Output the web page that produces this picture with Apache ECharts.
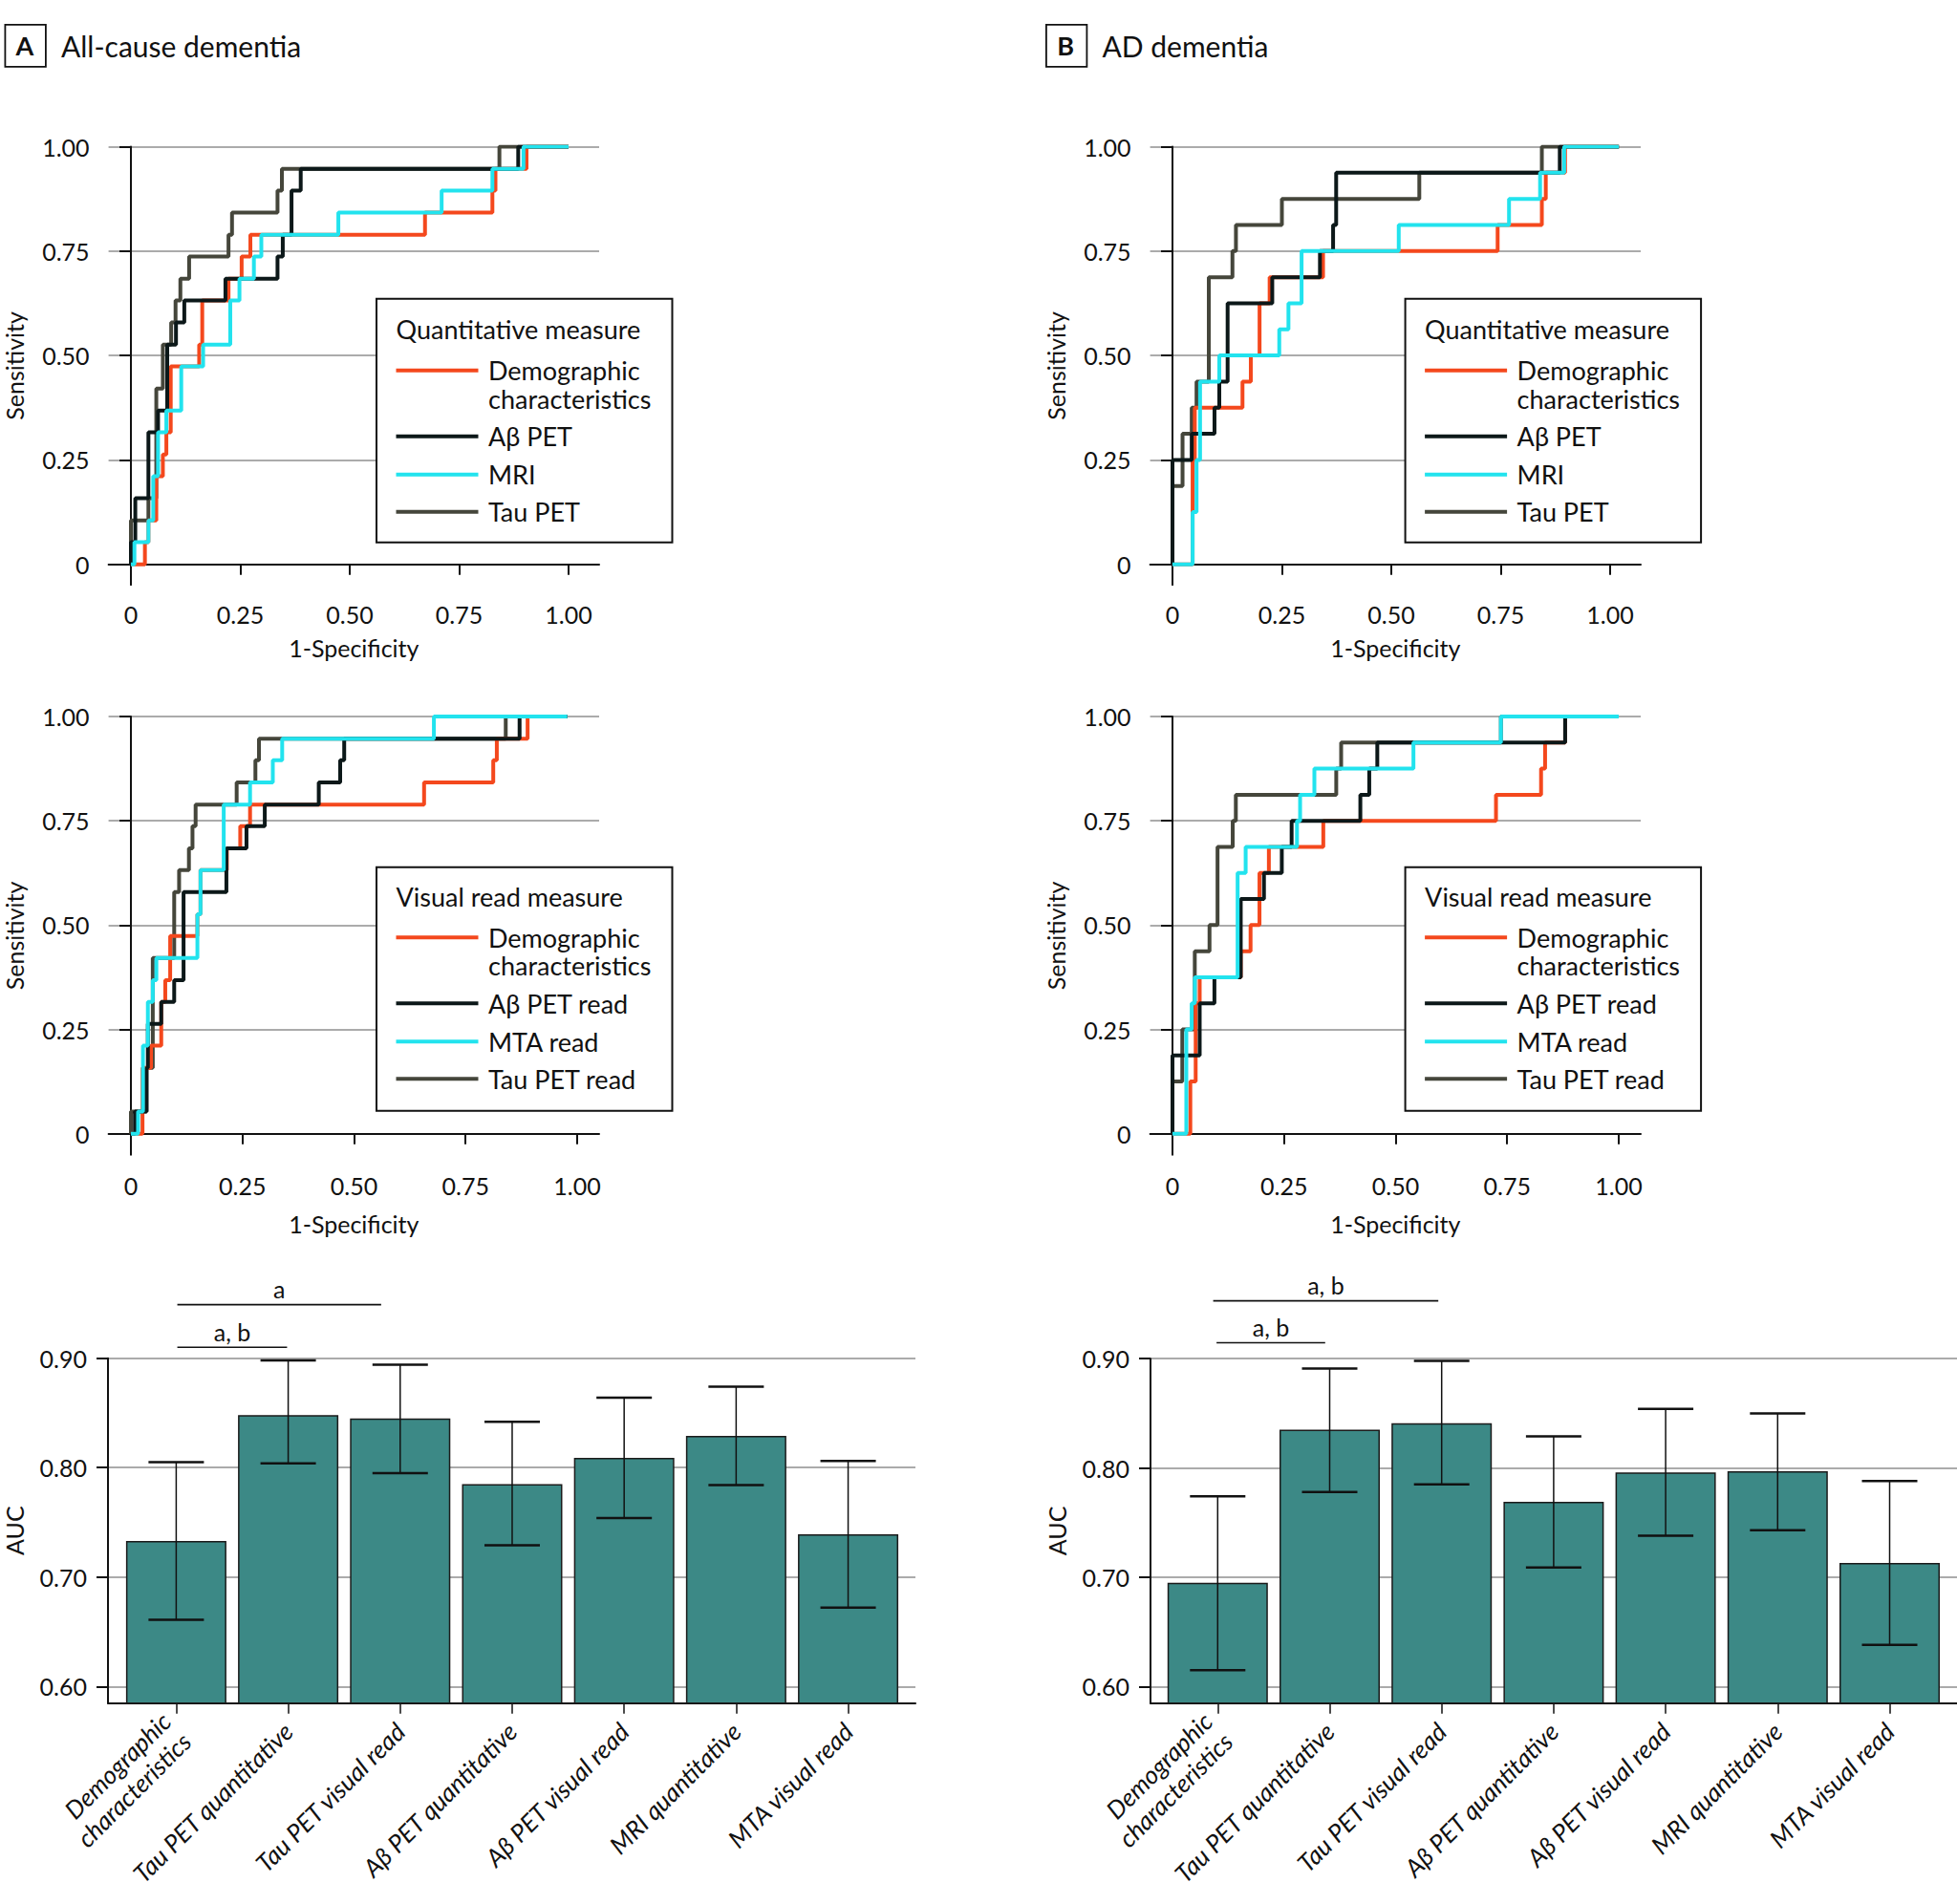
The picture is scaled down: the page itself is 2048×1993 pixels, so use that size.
<!DOCTYPE html>
<html><head><meta charset="utf-8">
<script src="https://cdn.jsdelivr.net/npm/echarts@6.0.0/dist/echarts.min.js"></script>
<style>html,body{margin:0;padding:0;background:#fff}#c{width:2048px;height:1993px}</style>
</head><body><div id="c"></div>
<script>
// ---------------- DATA ----------------
// ROC step curves: [FPR (1-Specificity), TPR (Sensitivity)] — each point = where the curve rises to that sensitivity
const demoA_q = [[0,0],[0.032,0.053],[0.04,0.105],[0.058,0.211],[0.073,0.263],[0.081,0.316],[0.091,0.474],[0.156,0.526],[0.163,0.632],[0.223,0.684],[0.253,0.737],[0.273,0.789],[0.672,0.842],[0.826,0.895],[0.833,0.947],[0.904,1],[1,1]];
const abA_q   = [[0,0],[0,0.053],[0.01,0.158],[0.04,0.316],[0.062,0.368],[0.083,0.526],[0.103,0.579],[0.122,0.632],[0.216,0.684],[0.335,0.737],[0.347,0.789],[0.367,0.895],[0.388,0.947],[0.885,1],[1,1]];
const mriA_q  = [[0,0],[0.008,0.053],[0.04,0.105],[0.051,0.211],[0.062,0.316],[0.081,0.368],[0.115,0.474],[0.165,0.526],[0.227,0.632],[0.248,0.684],[0.281,0.737],[0.298,0.789],[0.474,0.842],[0.71,0.895],[0.826,0.947],[0.897,1],[1,1]];
const tauA_q  = [[0,0],[0,0.105],[0.04,0.158],[0.058,0.421],[0.073,0.526],[0.092,0.579],[0.102,0.632],[0.113,0.684],[0.133,0.737],[0.223,0.789],[0.231,0.842],[0.335,0.895],[0.345,0.947],[0.842,1],[1,1]];

const demoA_v = [[0,0],[0.026,0.158],[0.045,0.211],[0.068,0.316],[0.077,0.368],[0.088,0.474],[0.149,0.526],[0.156,0.632],[0.215,0.684],[0.245,0.737],[0.267,0.789],[0.657,0.842],[0.812,0.895],[0.82,0.947],[0.889,1],[0.978,1]];
const abA_v   = [[0,0],[0.009,0.053],[0.035,0.158],[0.038,0.263],[0.068,0.316],[0.097,0.368],[0.118,0.579],[0.214,0.684],[0.259,0.737],[0.3,0.789],[0.421,0.842],[0.469,0.895],[0.478,0.947],[0.871,1],[0.978,1]];
const mtaA_v  = [[0,0],[0.016,0.053],[0.027,0.211],[0.038,0.316],[0.049,0.368],[0.057,0.421],[0.149,0.526],[0.156,0.632],[0.208,0.789],[0.267,0.842],[0.318,0.895],[0.339,0.947],[0.679,1],[0.978,1]];
const tauA_v  = [[0,0],[0,0.053],[0.035,0.158],[0.049,0.421],[0.097,0.579],[0.108,0.632],[0.13,0.684],[0.138,0.737],[0.145,0.789],[0.237,0.842],[0.279,0.895],[0.287,0.947],[0.84,1],[0.978,1]];

const demoB_q = [[0,0],[0.046,0.25],[0.051,0.375],[0.16,0.4375],[0.179,0.5],[0.199,0.625],[0.222,0.6875],[0.344,0.75],[0.743,0.8125],[0.844,0.875],[0.853,0.9375],[0.897,1],[1.02,1]];
const abB_q   = [[0,0],[0,0.25],[0.044,0.3125],[0.096,0.375],[0.107,0.4375],[0.126,0.625],[0.228,0.6875],[0.337,0.75],[0.367,0.8125],[0.374,0.9375],[0.885,1],[1.02,1]];
const mriB_q  = [[0,0],[0.046,0.125],[0.055,0.25],[0.063,0.4375],[0.107,0.5],[0.244,0.5625],[0.265,0.625],[0.295,0.75],[0.517,0.8125],[0.769,0.875],[0.84,0.9375],[0.895,1],[1.02,1]];
const tauB_q  = [[0,0],[0,0.1875],[0.023,0.3125],[0.044,0.375],[0.055,0.4375],[0.083,0.6875],[0.137,0.75],[0.145,0.8125],[0.25,0.875],[0.564,0.9375],[0.844,1],[1.02,1]];

const demoB_v = [[0,0],[0.04,0.125],[0.052,0.3125],[0.061,0.375],[0.153,0.4375],[0.175,0.5],[0.195,0.625],[0.216,0.6875],[0.338,0.75],[0.725,0.8125],[0.826,0.875],[0.835,0.9375],[0.88,1],[1,1]];
const abB_v   = [[0,0],[0,0.1875],[0.061,0.3125],[0.094,0.375],[0.153,0.5625],[0.205,0.625],[0.245,0.6875],[0.267,0.75],[0.421,0.8125],[0.441,0.875],[0.459,0.9375],[0.88,1],[1,1]];
const mtaB_v  = [[0,0],[0.031,0.25],[0.043,0.3125],[0.05,0.375],[0.146,0.625],[0.164,0.6875],[0.279,0.75],[0.286,0.8125],[0.318,0.875],[0.54,0.9375],[0.736,1],[1,1]];
const tauB_v  = [[0,0],[0,0.125],[0.022,0.25],[0.05,0.4375],[0.083,0.5],[0.101,0.6875],[0.135,0.75],[0.142,0.8125],[0.367,0.875],[0.378,0.9375],[0.736,1],[1,1]];

const rocTicks = [0, 0.25, 0.5, 0.75, 1];

const quantNames  = ['Demographic\ncharacteristics', 'Aβ PET', 'MRI', 'Tau PET'];
const visualNames = ['Demographic\ncharacteristics', 'Aβ PET read', 'MTA read', 'Tau PET read'];

// AUC bars
const categories = ['Demographic\ncharacteristics', 'Tau PET quantitative', 'Tau PET visual read', 'Aβ PET quantitative', 'Aβ PET visual read', 'MRI quantitative', 'MTA visual read'];
const catPos = [1, 2, 3, 4, 5, 6, 7];
const aucA = [0.733, 0.848, 0.845, 0.785, 0.809, 0.829, 0.739];
const loA  = [0.661, 0.804, 0.795, 0.729, 0.754, 0.784, 0.672];
const hiA  = [0.805, 0.898, 0.894, 0.842, 0.864, 0.874, 0.806];
const aucB = [0.695, 0.835, 0.841, 0.769, 0.796, 0.797, 0.713];
const loB  = [0.615, 0.778, 0.785, 0.709, 0.738, 0.743, 0.638];
const hiB  = [0.774, 0.891, 0.898, 0.829, 0.854, 0.850, 0.788];
const aucTicks = [0.6, 0.7, 0.8, 0.9];

// significance brackets: from / to (category position), level (AUC), label
const sigFromA = [1.01, 1.01], sigToA = [1.99, 2.83], sigLevelA = [0.910, 0.949], sigLabelA = ['a, b', 'a'];
const sigFromB = [0.99, 0.96], sigToB = [1.96, 2.97], sigLevelB = [0.9146, 0.953], sigLabelB = ['a, b', 'a, b'];

const panelTitles = ['All-cause dementia', 'AD dementia'];
const panelLetters = ['A', 'B'];

// ---------------- STYLE ----------------
const FONT = 'Lato';
const INK = '#111111';
const C = { demo: '#f4481d', ab: '#0c1819', mri: '#22e3ee', tau: '#45463b' };
const GRIDC = '#ababab';
const BAR = '#3c8986';

const chart = echarts.init(document.getElementById('c'), null, { renderer: 'svg', width: 2048, height: 1993 });

const grids = [
  { left: 113.6, top: 153.5, width: 513.4, height: 458.8 },
  { left: 1203.6, top: 153.5, width: 513.4, height: 458.8 },
  { left: 113.6, top: 750, width: 513.4, height: 458.7 },
  { left: 1203.6, top: 750, width: 513.4, height: 458.7 },
  { left: 113, top: 1421.7, width: 845, height: 361 },
  { left: 1204, top: 1422.2, width: 844, height: 360.5 }
];

const fmtRoc = v => (Math.abs(v) < 1e-9 ? '0' : v.toFixed(2));

function rocX(i, min, max, labelMargin, nameGap) {
  return {
    type: 'value', gridIndex: i, min, max,
    axisLine: { show: true, lineStyle: { color: INK, width: 2 } },
    axisTick: { show: true, customValues: rocTicks, length: 11, lineStyle: { color: INK, width: 2 } },
    axisLabel: { customValues: rocTicks, formatter: fmtRoc, fontSize: 25, color: INK, fontFamily: FONT, margin: labelMargin },
    splitLine: { show: false },
    name: '1-Specificity', nameLocation: 'middle', nameGap,
    nameTextStyle: { fontSize: 25, color: INK, fontFamily: FONT }
  };
}
function rocY(i, min) {
  return {
    type: 'value', gridIndex: i, min, max: 1,
    axisLine: { show: true, lineStyle: { color: INK, width: 2 } },
    axisTick: { show: true, customValues: rocTicks, length: 12, lineStyle: { color: INK, width: 2 } },
    axisLabel: { customValues: rocTicks, formatter: fmtRoc, fontSize: 25, color: INK, fontFamily: FONT, margin: 20 },
    splitLine: { show: true, lineStyle: { color: GRIDC, width: 2 } },
    name: 'Sensitivity', nameLocation: 'middle', nameGap: 86,
    nameTextStyle: { fontSize: 25, color: INK, fontFamily: FONT }
  };
}
function barX(i, min, max) {
  return {
    type: 'value', gridIndex: i, min, max,
    axisLine: { show: true, lineStyle: { color: INK, width: 2 } },
    axisTick: { show: true, customValues: catPos, length: 11, lineStyle: { color: INK, width: 1.5 } },
    axisLabel: { customValues: catPos, formatter: v => categories[Math.round(v) - 1], rotate: 45,
      fontSize: 26, fontStyle: 'italic', color: INK, fontFamily: FONT, margin: 25, lineHeight: 30 },
    splitLine: { show: false }
  };
}
function barY(i) {
  return {
    type: 'value', gridIndex: i, min: 0.5848, max: 0.9,
    axisLine: { show: true, lineStyle: { color: INK, width: 2 } },
    axisTick: { show: true, customValues: aucTicks, length: 12, lineStyle: { color: INK, width: 2 } },
    axisLabel: { customValues: aucTicks, formatter: v => v.toFixed(2), fontSize: 25, color: INK, fontFamily: FONT, margin: 22 },
    splitLine: { show: true, lineStyle: { color: GRIDC, width: 2 } },
    name: 'AUC', nameLocation: 'middle', nameGap: 86,
    nameTextStyle: { fontSize: 25, color: INK, fontFamily: FONT }
  };
}

const xAxes = [
  rocX(0, -0.0511, 1.0699, 18, 53),
  rocX(1, -0.0511, 1.0699, 18, 53),
  rocX(2, -0.0501, 1.0493, 20, 60),
  rocX(3, -0.0501, 1.0493, 20, 60),
  barX(4, 0.3908, 7.601),
  barX(5, 0.4002, 7.6015)
];
const yAxes = [rocY(0, -0.0494), rocY(1, -0.0494), rocY(2, -0.0504), rocY(3, -0.0504), barY(4), barY(5)];

function roc(i, name, data, color) {
  return { type: 'line', name, xAxisIndex: i, yAxisIndex: i, data, step: 'end', symbol: 'none',
    lineStyle: { color, width: 4 }, itemStyle: { color }, z: 3, silent: true };
}

const series = [];
// draw order: Tau, Demographic, Aβ, MRI/MTA (top)
[[0, tauA_q, demoA_q, abA_q, mriA_q, quantNames], [1, tauB_q, demoB_q, abB_q, mriB_q, quantNames],
 [2, tauA_v, demoA_v, abA_v, mtaA_v, visualNames], [3, tauB_v, demoB_v, abB_v, mtaB_v, visualNames]]
.forEach(([i, tau, demo, ab, mri, names]) => {
  series.push(roc(i, names[3], tau, C.tau));
  series.push(roc(i, names[0], demo, C.demo));
  series.push(roc(i, names[1], ab, C.ab));
  series.push(roc(i, names[2], mri, C.mri));
});

function bars(i, auc, lo, hi, from, to, level, labels) {
  series.push({ type: 'bar', xAxisIndex: i, yAxisIndex: i, barWidth: 105,
    data: catPos.map((p, k) => [p, auc[k]]),
    itemStyle: { color: BAR, borderColor: '#1b1b1b', borderWidth: 1.5 }, silent: true, z: 2 });
  series.push({ type: 'custom', xAxisIndex: i, yAxisIndex: i, clip: false, silent: true, z: 4,
    data: catPos.map((p, k) => [p, lo[k], hi[k]]),
    encode: { x: 0, y: [1, 2] },
    renderItem: (params, api) => {
      const a = api.coord([api.value(0), api.value(1)]);
      const b = api.coord([api.value(0), api.value(2)]);
      const h = 29;
      return { type: 'group', children: [
        { type: 'line', shape: { x1: a[0], y1: a[1], x2: b[0], y2: b[1] }, style: { stroke: INK, lineWidth: 1.5 } },
        { type: 'line', shape: { x1: a[0] - h, y1: a[1], x2: a[0] + h, y2: a[1] }, style: { stroke: INK, lineWidth: 2.5 } },
        { type: 'line', shape: { x1: b[0] - h, y1: b[1], x2: b[0] + h, y2: b[1] }, style: { stroke: INK, lineWidth: 2.5 } }
      ] };
    } });
  series.push({ type: 'custom', xAxisIndex: i, yAxisIndex: i, clip: false, silent: true, z: 4,
    data: from.map((f, k) => [f, to[k], level[k]]),
    encode: { x: [0, 1], y: 2 },
    renderItem: (params, api) => {
      const a = api.coord([api.value(0), api.value(2)]);
      const b = api.coord([api.value(1), api.value(2)]);
      return { type: 'group', children: [
        { type: 'line', shape: { x1: a[0], y1: a[1], x2: b[0], y2: b[1] }, style: { stroke: INK, lineWidth: 1.7 } },
        { type: 'text', x: (a[0] + b[0]) / 2, y: a[1] - 4,
          style: { text: labels[params.dataIndex], fill: INK, fontSize: 25, fontFamily: FONT, align: 'center', verticalAlign: 'bottom' } }
      ] };
    } });
}
bars(4, aucA, loA, hiA, sigFromA, sigToA, sigLevelA, sigLabelA);
bars(5, aucB, loB, hiB, sigFromB, sigToB, sigLevelB, sigLabelB);

// ---------------- graphic: panel titles and legends ----------------
const graphic = [];
[[4.5, panelLetters[0], 64, panelTitles[0]], [1094, panelLetters[1], 1153.5, panelTitles[1]]].forEach(([bx, letter, tx, title]) => {
  graphic.push({ type: 'rect', left: bx, top: 25, shape: { width: 42.5, height: 44 }, style: { fill: '#fff', stroke: INK, lineWidth: 1.8 } });
  graphic.push({ type: 'text', x: bx + 21.25, y: 47.5, style: { text: letter, fontSize: 27, fontWeight: 'bold', fontFamily: FONT, fill: INK, align: 'center', verticalAlign: 'middle' } });
  graphic.push({ type: 'text', x: tx, y: 47.5, style: { text: title, fontSize: 30, fontFamily: FONT, fill: INK, align: 'left', verticalAlign: 'middle' } });
});

function legend(x0, y0, title, names, dy) {
  const colors = [C.demo, C.ab, C.mri, C.tau];
  graphic.push({ type: 'rect', x: x0, y: y0, shape: { width: 309.5, height: 255 }, style: { fill: '#fff', stroke: INK, lineWidth: 2 }, z: 10 });
  graphic.push({ type: 'text', x: x0 + 20.5, y: y0 + 32 + dy, z: 11, style: { text: title, fontSize: 27, fontFamily: FONT, fill: INK, align: 'left', verticalAlign: 'middle' } });
  const ys = [75, 144, 184, 223];
  names.forEach((n, k) => {
    const y = y0 + ys[k] + dy;
    graphic.push({ type: 'line', z: 11, shape: { x1: x0 + 20.5, y1: y, x2: x0 + 106.5, y2: y }, style: { stroke: colors[k], lineWidth: 4 } });
    graphic.push({ type: 'text', x: x0 + 117, y: y - 14.5, z: 11, style: { text: n, fontSize: 27, lineHeight: 29.5, fontFamily: FONT, fill: INK, align: 'left', verticalAlign: 'top' } });
  });
}
legend(394, 312.7, 'Quantitative measure', quantNames, 0);
legend(1470.6, 312.7, 'Quantitative measure', quantNames, 0);
legend(394, 907.7, 'Visual read measure', visualNames, -1.5);
legend(1470.6, 907.7, 'Visual read measure', visualNames, -1.5);

chart.setOption({
  animation: false,
  backgroundColor: '#ffffff',
  textStyle: { fontFamily: FONT },
  grid: grids,
  xAxis: xAxes,
  yAxis: yAxes,
  series,
  graphic
});
</script></body></html>
